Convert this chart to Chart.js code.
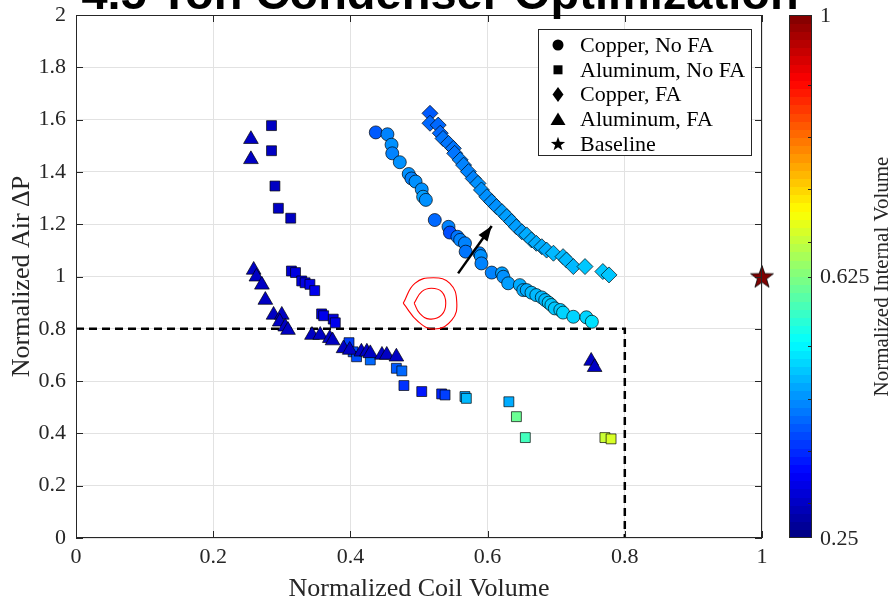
<!DOCTYPE html>
<html>
<head>
<meta charset="utf-8">
<script src="https://cdn.jsdelivr.net/npm/chart.js@4.4.1/dist/chart.umd.min.js"></script>
<style>
  html, body { margin: 0; padding: 0; background: #fff; }
</style>
</head>
<body>
<canvas id="condenserChart" width="890" height="602"></canvas>
<script>
// titles and ticks
const titleText = '4.5 Ton Condenser Optimization';
const xTitle = 'Normalized Coil Volume';
const yTitle = 'Normalized Air \u0394P';
const cbTitle = 'Normalized Internal Volume';
const xTickLabels = ['0', '0.2', '0.4', '0.6', '0.8', '1'];
const yTickLabels = ['0', '0.2', '0.4', '0.6', '0.8', '1', '1.2', '1.4', '1.6', '1.8', '2'];
const cbTickValues = [0.25, 0.625, 1];
const cbTickLabels = ['0.25', '0.625', '1'];
const cbMinorTicks = [0.3, 0.375, 0.45, 0.525, 0.625, 0.675, 0.75, 0.825, 0.9];
const seriesNames = ['Copper, No FA', 'Aluminum, No FA', 'Copper, FA', 'Aluminum, FA', 'Baseline'];

// Copper, No FA (circles)
const cuNoFaX = [0.437, 0.454, 0.460, 0.461, 0.472, 0.485, 0.489, 0.495, 0.504, 0.506, 0.510, 0.523, 0.543, 0.545, 0.556, 0.560, 0.567, 0.568, 0.588, 0.590, 0.591, 0.606, 0.621, 0.623, 0.630, 0.647, 0.652, 0.657, 0.664, 0.671, 0.679, 0.684, 0.689, 0.693, 0.698, 0.706, 0.710, 0.725, 0.744, 0.752];
const cuNoFaY = [1.551, 1.544, 1.504, 1.471, 1.437, 1.392, 1.375, 1.363, 1.333, 1.305, 1.293, 1.216, 1.190, 1.168, 1.152, 1.140, 1.127, 1.095, 1.089, 1.078, 1.050, 1.015, 1.012, 0.999, 0.974, 0.967, 0.948, 0.948, 0.938, 0.929, 0.920, 0.910, 0.900, 0.891, 0.878, 0.872, 0.862, 0.846, 0.844, 0.827];
const cuNoFaC = [0.41, 0.44, 0.45, 0.44, 0.45, 0.45, 0.44, 0.45, 0.45, 0.46, 0.45, 0.42, 0.44, 0.40, 0.43, 0.44, 0.44, 0.43, 0.44, 0.45, 0.44, 0.44, 0.46, 0.45, 0.46, 0.47, 0.47, 0.47, 0.48, 0.48, 0.48, 0.48, 0.49, 0.49, 0.49, 0.49, 0.50, 0.50, 0.50, 0.51];

// Aluminum, No FA (squares)
const alNoFaX = [0.285, 0.285, 0.290, 0.295, 0.313, 0.314, 0.320, 0.329, 0.334, 0.341, 0.348, 0.358, 0.361, 0.375, 0.378, 0.398, 0.404, 0.409, 0.429, 0.467, 0.475, 0.478, 0.504, 0.533, 0.538, 0.567, 0.569, 0.631, 0.642, 0.655, 0.771, 0.780];
const alNoFaY = [1.577, 1.481, 1.346, 1.261, 1.223, 1.021, 1.015, 0.983, 0.976, 0.970, 0.946, 0.857, 0.850, 0.837, 0.823, 0.747, 0.712, 0.693, 0.681, 0.649, 0.639, 0.583, 0.560, 0.551, 0.547, 0.541, 0.534, 0.521, 0.464, 0.384, 0.384, 0.379];
const alNoFaC = [0.30, 0.30, 0.30, 0.30, 0.30, 0.31, 0.32, 0.32, 0.32, 0.33, 0.33, 0.32, 0.33, 0.32, 0.33, 0.39, 0.40, 0.40, 0.42, 0.41, 0.42, 0.38, 0.36, 0.37, 0.39, 0.46, 0.48, 0.47, 0.61, 0.58, 0.68, 0.69];

// Copper, FA (diamonds)
const cuFaX = [0.516, 0.516, 0.528, 0.531, 0.535, 0.543, 0.550, 0.552, 0.560, 0.565, 0.572, 0.579, 0.586, 0.591, 0.599, 0.606, 0.613, 0.621, 0.628, 0.635, 0.642, 0.650, 0.657, 0.664, 0.671, 0.679, 0.686, 0.696, 0.710, 0.715, 0.725, 0.742, 0.768, 0.777];
const cuFaY = [1.624, 1.586, 1.579, 1.548, 1.528, 1.509, 1.490, 1.471, 1.446, 1.426, 1.401, 1.375, 1.356, 1.331, 1.305, 1.286, 1.267, 1.248, 1.229, 1.210, 1.190, 1.171, 1.159, 1.140, 1.127, 1.114, 1.101, 1.089, 1.076, 1.063, 1.038, 1.038, 1.019, 1.006];
const cuFaC = [0.41, 0.42, 0.42, 0.42, 0.43, 0.43, 0.43, 0.43, 0.44, 0.44, 0.44, 0.44, 0.45, 0.45, 0.45, 0.45, 0.45, 0.46, 0.46, 0.46, 0.46, 0.46, 0.47, 0.47, 0.47, 0.47, 0.47, 0.48, 0.48, 0.48, 0.48, 0.49, 0.49, 0.49];

// Aluminum, FA (triangles)
const alFaX = [0.255, 0.255, 0.259, 0.263, 0.271, 0.276, 0.288, 0.300, 0.297, 0.305, 0.309, 0.344, 0.356, 0.370, 0.374, 0.390, 0.399, 0.416, 0.424, 0.429, 0.446, 0.453, 0.467, 0.751, 0.756];
const alFaY = [1.525, 1.448, 1.025, 0.999, 0.968, 0.910, 0.853, 0.853, 0.827, 0.808, 0.795, 0.776, 0.776, 0.764, 0.755, 0.725, 0.719, 0.712, 0.712, 0.706, 0.700, 0.700, 0.693, 0.677, 0.653];
const alFaC = [0.30, 0.30, 0.30, 0.30, 0.30, 0.30, 0.30, 0.30, 0.30, 0.30, 0.30, 0.30, 0.30, 0.30, 0.30, 0.30, 0.30, 0.30, 0.30, 0.30, 0.30, 0.30, 0.30, 0.30, 0.30];

// Baseline (star)
const baseX = [1];
const baseY = [1];
const baseC = [1];

// annotations
const limitX = [0, 0.8, 0.8];
const limitY = [0.8, 0.8, 0];
const arrowX = [0.557, 0.606];
const arrowY = [1.012, 1.193];
const contourOuterX = [0.477, 0.494, 0.521, 0.545, 0.555, 0.548, 0.523, 0.499, 0.477];
const contourOuterY = [0.898, 0.974, 0.995, 0.974, 0.904, 0.834, 0.799, 0.827, 0.898];
const contourInnerX = [0.493, 0.504, 0.518, 0.533, 0.539, 0.533, 0.516, 0.501, 0.493];
const contourInnerY = [0.898, 0.942, 0.955, 0.942, 0.898, 0.853, 0.837, 0.859, 0.898];

const cMin = 0.25, cMax = 1;

function jet(v) {
  const t = (v - cMin) / (cMax - cMin);
  const f = a => Math.max(0, Math.min(1, a));
  const r = f(1.5 - Math.abs(4 * t - 3));
  const g = f(1.5 - Math.abs(4 * t - 2));
  const b = f(1.5 - Math.abs(4 * t - 1));
  return `rgb(${Math.round(r * 255)},${Math.round(g * 255)},${Math.round(b * 255)})`;
}

function pts(xs, ys) {
  return xs.map((x, i) => ({ x: x, y: ys[i] }));
}

function starPath(ctx, cx, cy, R) {
  const r = R * 0.4;
  ctx.beginPath();
  for (let k = 0; k < 10; k++) {
    const rad = k % 2 === 0 ? R : r;
    const ang = -Math.PI / 2 + k * Math.PI / 5;
    const px = cx + rad * Math.cos(ang), py = cy + rad * Math.sin(ang);
    if (k === 0) ctx.moveTo(px, py); else ctx.lineTo(px, py);
  }
  ctx.closePath();
}

// filled star image for the baseline point
const starImg = document.createElement('canvas');
starImg.width = 26; starImg.height = 26;
(function () {
  const sc = starImg.getContext('2d');
  starPath(sc, 13, 14, 12);
  sc.fillStyle = jet(baseC[0]);
  sc.fill();
  sc.lineWidth = 0.8;
  sc.strokeStyle = '#000';
  sc.stroke();
})();

function markerSet(label, xs, ys, cs, style, radius, order) {
  return {
    label: label,
    data: pts(xs, ys),
    pointStyle: style,
    pointRadius: radius,
    pointHoverRadius: radius,
    backgroundColor: cs.map(jet),
    borderColor: 'rgba(0,0,0,0.85)',
    borderWidth: 0.8,
    order: order
  };
}

function lineSet(xs, ys, color, width, dash, tension, order) {
  return {
    data: pts(xs, ys),
    showLine: true,
    pointRadius: 0,
    borderColor: color,
    backgroundColor: color,
    borderWidth: width,
    borderDash: dash,
    tension: tension,
    order: order
  };
}

const serif = '"Liberation Serif", "Times New Roman", serif';

const decor = {
  id: 'decor',
  afterDatasetsDraw(chart) {
    const { ctx, scales: { x, y } } = chart;
    // arrow head
    const x0 = x.getPixelForValue(arrowX[0]), y0 = y.getPixelForValue(arrowY[0]);
    const x1 = x.getPixelForValue(arrowX[1]), y1 = y.getPixelForValue(arrowY[1]);
    const ang = Math.atan2(y1 - y0, x1 - x0);
    const len = 15, hw = 5.5;
    ctx.save();
    ctx.fillStyle = '#000';
    ctx.beginPath();
    ctx.moveTo(x1, y1);
    ctx.lineTo(x1 - len * Math.cos(ang) + hw * Math.sin(ang), y1 - len * Math.sin(ang) - hw * Math.cos(ang));
    ctx.lineTo(x1 - len * Math.cos(ang) - hw * Math.sin(ang), y1 - len * Math.sin(ang) + hw * Math.cos(ang));
    ctx.closePath();
    ctx.fill();
    ctx.restore();
  },
  afterDraw(chart) {
    const { ctx, chartArea: a, scales: { x, y } } = chart;
    ctx.save();
    // axes box and inward ticks
    ctx.strokeStyle = '#262626';
    ctx.lineWidth = 1;
    ctx.strokeRect(a.left + 0.5, a.top + 0.5, a.right - a.left - 1, a.bottom - a.top - 1);
    ctx.beginPath();
    x.ticks.forEach(t => {
      const px = Math.round(x.getPixelForValue(t.value)) + 0.5;
      ctx.moveTo(px, a.bottom); ctx.lineTo(px, a.bottom - 7);
      ctx.moveTo(px, a.top); ctx.lineTo(px, a.top + 7);
    });
    y.ticks.forEach(t => {
      const py = Math.round(y.getPixelForValue(t.value)) + 0.5;
      ctx.moveTo(a.left, py); ctx.lineTo(a.left + 7, py);
      ctx.moveTo(a.right, py); ctx.lineTo(a.right - 7, py);
    });
    ctx.stroke();

    // colorbar
    const cbL = a.right + 27, cbW = 23;
    const cbPix = v => a.bottom - (v - cMin) / (cMax - cMin) * (a.bottom - a.top);
    const nBands = 64;
    for (let k = 0; k < nBands; k++) {
      const v0 = cMin + k * (cMax - cMin) / nBands;
      const v1 = cMin + (k + 1) * (cMax - cMin) / nBands;
      ctx.fillStyle = jet((v0 + v1) / 2);
      const yt = cbPix(v1), yb = cbPix(v0);
      ctx.fillRect(cbL, Math.floor(yt), cbW, Math.ceil(yb) - Math.floor(yt));
    }
    ctx.strokeStyle = '#262626';
    ctx.strokeRect(cbL + 0.5, a.top + 0.5, cbW - 1, a.bottom - a.top - 1);
    ctx.beginPath();
    cbMinorTicks.forEach(v => {
      const py = Math.round(cbPix(v)) + 0.5;
      ctx.moveTo(cbL + cbW, py); ctx.lineTo(cbL + cbW - 4, py);
    });
    ctx.stroke();
    ctx.fillStyle = '#262626';
    ctx.font = '22px ' + serif;
    ctx.textAlign = 'left';
    ctx.textBaseline = 'middle';
    cbTickValues.forEach((v, i) => {
      ctx.fillText(cbTickLabels[i], cbL + cbW + 8, cbPix(v) + 1);
    });
    ctx.save();
    ctx.translate(a.right + 120, (a.top + a.bottom) / 2);
    ctx.rotate(-Math.PI / 2);
    ctx.font = '21px ' + serif;
    ctx.textAlign = 'center';
    ctx.fillText(cbTitle, 0, 0);
    ctx.restore();

    // legend
    const lx = 538, ly = 29, lw = 213, lh = 126;
    ctx.fillStyle = '#fff';
    ctx.fillRect(lx, ly, lw, lh);
    ctx.strokeStyle = '#262626';
    ctx.strokeRect(lx + 0.5, ly + 0.5, lw, lh);
    ctx.fillStyle = '#000';
    ctx.font = '22px ' + serif;
    seriesNames.forEach((name, i) => {
      const cy = ly + 16 + i * 24.8;
      const cx = lx + 20;
      ctx.beginPath();
      if (i === 0) {
        ctx.arc(cx, cy, 5.5, 0, Math.PI * 2);
      } else if (i === 1) {
        ctx.rect(cx - 4.5, cy - 4.5, 9, 9);
      } else if (i === 2) {
        ctx.moveTo(cx, cy - 7.5); ctx.lineTo(cx + 5.5, cy); ctx.lineTo(cx, cy + 7.5); ctx.lineTo(cx - 5.5, cy);
        ctx.closePath();
      } else if (i === 3) {
        ctx.moveTo(cx, cy - 7); ctx.lineTo(cx + 7.5, cy + 5.5); ctx.lineTo(cx - 7.5, cy + 5.5);
        ctx.closePath();
      } else {
        starPath(ctx, cx, cy, 7.5);
      }
      ctx.fill();
      ctx.fillText(name, lx + 42, cy + 1);
    });

    // title, partly above the canvas
    ctx.font = 'bold 47px "Liberation Sans", Arial, sans-serif';
    ctx.textAlign = 'center';
    ctx.textBaseline = 'alphabetic';
    ctx.fillStyle = '#000';
    ctx.fillText(titleText, 440, 9);
    ctx.restore();
  }
};

Chart.defaults.font.family = serif;
Chart.defaults.color = '#262626';

new Chart(document.getElementById('condenserChart'), {
  type: 'scatter',
  data: {
    datasets: [
      markerSet(seriesNames[0], cuNoFaX, cuNoFaY, cuNoFaC, 'circle', 6.5, 6),
      markerSet(seriesNames[1], alNoFaX, alNoFaY, alNoFaC, 'rect', 7, 5),
      markerSet(seriesNames[2], cuFaX, cuFaY, cuFaC, 'rectRot', 8, 4),
      markerSet(seriesNames[3], alFaX, alFaY, alFaC, 'triangle', 8.5, 3),
      Object.assign(markerSet(seriesNames[4], baseX, baseY, baseC, starImg, 12, 2), { clip: false }),
      lineSet(limitX, limitY, '#000', 2.5, [8, 5], 0, 10),
      lineSet(arrowX, arrowY, '#000', 2.5, [], 0, 1),
      lineSet(contourOuterX, contourOuterY, '#ff0000', 1.1, [], 0.45, 9),
      lineSet(contourInnerX, contourInnerY, '#ff0000', 1.1, [], 0.45, 9)
    ]
  },
  options: {
    responsive: false,
    animation: false,
    events: [],
    layout: { padding: { left: 0, right: 128, top: 15, bottom: 0 } },
    plugins: {
      legend: { display: false },
      title: { display: false },
      tooltip: { enabled: false }
    },
    scales: {
      x: {
        type: 'linear',
        min: 0,
        max: 1,
        afterFit: s => { s.height = 64; s.paddingLeft = 0; s.paddingRight = 0; },
        grid: { color: '#e2e2e2', drawTicks: false },
        border: { display: false },
        ticks: {
          stepSize: 0.2,
          padding: 6,
          maxRotation: 0,
          autoSkip: false,
          font: { size: 22 },
          callback: (v, i) => xTickLabels[i]
        },
        title: { display: true, text: xTitle, font: { size: 26, lineHeight: 1 }, padding: 0, color: '#262626' }
      },
      y: {
        type: 'linear',
        min: 0,
        max: 2,
        afterFit: s => { s.width = 76; s.paddingTop = 0; s.paddingBottom = 0; },
        grid: { color: '#e2e2e2', drawTicks: false },
        border: { display: false },
        ticks: {
          stepSize: 0.2,
          padding: 10,
          autoSkip: false,
          font: { size: 22 },
          callback: (v, i) => yTickLabels[i]
        },
        title: { display: true, text: yTitle, font: { size: 26, lineHeight: 1 }, padding: { top: 9, bottom: 0 }, color: '#262626' }
      }
    }
  },
  plugins: [decor]
});
</script>
</body>
</html>
